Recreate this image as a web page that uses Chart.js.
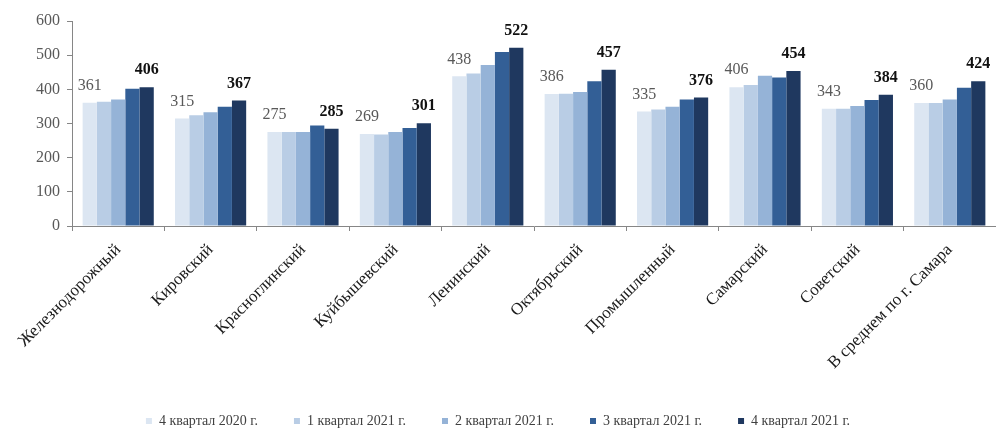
<!DOCTYPE html>
<html>
<head>
<meta charset="utf-8">
<script src="https://cdn.jsdelivr.net/npm/chart.js@4"></script>
<style>
  html, body { margin: 0; padding: 0; background: #fff; }
  #wrap { width: 996px; height: 430px; }
</style>
</head>
<body>
<div id="wrap"><canvas id="chart"></canvas></div>
<script>
// Districts of Samara
const districts = ['Железнодорожный', 'Кировский', 'Красноглинский', 'Куйбышевский', 'Ленинский',
    'Октябрьский', 'Промышленный', 'Самарский', 'Советский', 'В среднем по г. Самара'];
const quarters = ['4 квартал 2020 г.', '1 квартал 2021 г.', '2 квартал 2021 г.', '3 квартал 2021 г.', '4 квартал 2021 г.'];

const q4_2020 = [361, 315, 275, 269, 438, 386, 335, 406, 343, 360];
const q1_2021 = [364, 324, 275, 268, 446, 387, 341, 413, 343, 360];
const q2_2021 = [370, 333, 275, 275, 471, 392, 349, 440, 351, 370];
const q3_2021 = [402, 349, 294, 287, 509, 424, 370, 435, 369, 405];
const q4_2021 = [406, 367, 285, 301, 522, 457, 376, 454, 384, 424];

const yTicks = [0, 100, 200, 300, 400, 500, 600];
const colors = ['#dce6f2', '#b9cde5', '#95b3d7', '#335f96', '#1f385f'];
const serif = "'Liberation Serif', 'DejaVu Serif', serif";

// value labels over the first and the last quarter of every group
const valueLabels = {
    id: 'valueLabels',
    afterDatasetsDraw(chart) {
        const ctx = chart.ctx;
        ctx.save();
        ctx.textAlign = 'center';
        ctx.textBaseline = 'middle';
        [[0, 'normal', '#595959'], [4, 'bold', '#111']].forEach(([di, weight, color]) => {
            const meta = chart.getDatasetMeta(di);
            const data = chart.data.datasets[di].data;
            ctx.font = weight + ' 16px ' + serif;
            ctx.fillStyle = color;
            meta.data.forEach((bar, i) => ctx.fillText(String(data[i]), bar.x, bar.y - 17));
        });
        ctx.restore();
    }
};

const series = [q4_2020, q1_2021, q2_2021, q3_2021, q4_2021];

new Chart(document.getElementById('chart'), {
    type: 'bar',
    data: {
        labels: districts,
        datasets: series.map((d, i) => ({
            label: quarters[i],
            data: d,
            backgroundColor: colors[i],
            categoryPercentage: 0.77,
            barPercentage: 1.0
        }))
    },
    options: {
        responsive: true, maintainAspectRatio: false,
        animation: false,
        layout: { padding: { top: 21, right: 0, bottom: -8, left: 0 } },
        plugins: {
            tooltip: { enabled: false },
            legend: {
                position: 'bottom',
                labels: {
                    font: { family: serif, size: 14 },
                    color: '#404040',
                    boxWidth: 6, boxHeight: 6,
                    padding: 36
                }
            }
        },
        scales: {
            x: {
                grid: { display: true, drawOnChartArea: false, offset: true, color: '#868686', tickLength: 5 },
                border: { color: '#868686' },
                ticks: {
                    minRotation: 45, maxRotation: 45,
                    font: { family: serif, size: 17 },
                    color: '#1a1a1a',
                    padding: 9
                },
                afterFit(scale) { scale.height = 152; }
            },
            y: {
                min: 0, max: 600,
                afterBuildTicks(scale) { scale.ticks = yTicks.map(v => ({ value: v })); },
                grid: { display: true, drawOnChartArea: false, color: '#868686', tickLength: 5 },
                border: { color: '#868686' },
                ticks: {
                    font: { family: serif, size: 16 },
                    color: '#595959',
                    padding: 7
                },
                afterFit(scale) { scale.width = 72; }
            }
        }
    },
    plugins: [valueLabels]
});
</script>
</body>
</html>
